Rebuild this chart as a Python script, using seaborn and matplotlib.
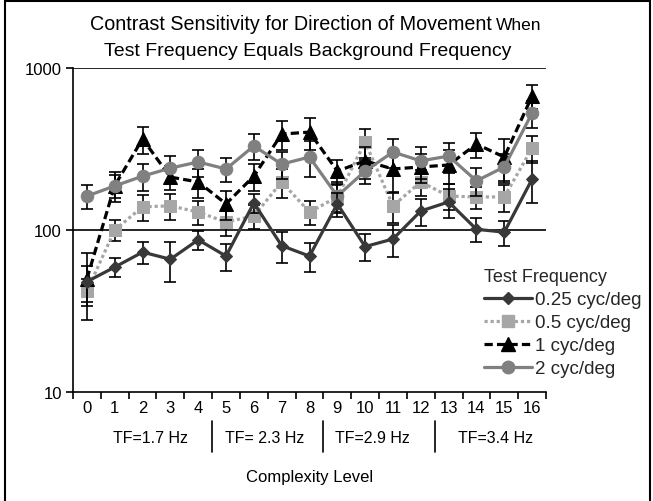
import matplotlib
matplotlib.use("Agg")
import matplotlib.pyplot as plt
import seaborn as sns
from matplotlib.patches import Rectangle
from matplotlib.lines import Line2D
from matplotlib.transforms import blended_transform_factory

# ---------------- data ----------------
levels = list(range(17))
level_labels = [str(i) for i in levels]
series_names = ["0.25 cyc/deg", "0.5 cyc/deg", "1 cyc/deg", "2 cyc/deg"]

vals_025 = [48, 59, 73, 66, 87, 69, 147, 80, 69, 145, 79, 88, 131, 149, 101, 97, 206]
vals_05 = [42, 100, 139, 141, 129, 112, 122, 198, 129, 160, 349, 141, 198, 162, 160, 160, 320]
vals_1 = [50, 188, 365, 212, 198, 145, 215, 391, 402, 231, 267, 238, 245, 252, 339, 282, 671]
vals_2 = [162, 187, 215, 241, 263, 238, 330, 255, 282, 162, 231, 303, 267, 286, 201, 245, 527]

err_025 = [12, 8, 11, 18, 12, 13, 20, 17, 14, 25, 15, 20, 25, 30, 17, 17, 60]
err_05 = [8, 15, 25, 25, 22, 20, 20, 40, 22, 30, 70, 30, 35, 30, 25, 30, 60]
err_1 = [22, 40, 70, 35, 40, 30, 40, 80, 90, 40, 60, 70, 50, 60, 60, 80, 110]
err_2 = [28, 30, 40, 45, 50, 40, 60, 50, 70, 35, 40, 60, 60, 60, 40, 50, 100]

group_labels = ["TF=1.7 Hz", "TF= 2.3 Hz", "TF=2.9 Hz", "TF=3.4 Hz"]
group_centers = [2.27, 6.4, 10.25, 14.67]
group_separators = [4.5, 8.5, 12.5]

# ---------------- style ----------------
sns.set_style("white")
plt.rcParams['font.family'] = ['Liberation Sans', 'DejaVu Sans']

W, H = 653, 502
fig = plt.figure(figsize=(W / 100, H / 100), dpi=100)
ax = fig.add_axes([73 / W, 1 - 393 / H, (546 - 73) / W, (393 - 69) / H])

styles = {
    "0.25 cyc/deg": dict(color="#383838", marker="D", ms=6.5, ls="-"),
    "0.5 cyc/deg": dict(color="#A6A6A6", marker="s", ms=8.5, ls=(0, (1.0, 0.9))),
    "1 cyc/deg": dict(color="#000000", marker="^", ms=9.5, ls=(0, (2.6, 1.3))),
    "2 cyc/deg": dict(color="#808080", marker="o", ms=9.0, ls="-"),
}
data = {
    "0.25 cyc/deg": (vals_025, err_025),
    "0.5 cyc/deg": (vals_05, err_05),
    "1 cyc/deg": (vals_1, err_1),
    "2 cyc/deg": (vals_2, err_2),
}
draw_order = ["0.5 cyc/deg", "1 cyc/deg", "2 cyc/deg", "0.25 cyc/deg"]

LW = 2.3
for k, name in enumerate(draw_order):
    vals, errs = data[name]
    st = styles[name]
    ax.errorbar(levels, vals, yerr=errs, fmt="none", ecolor="black",
                elinewidth=1.2, capsize=4.5, capthick=1.2, zorder=3 + 2 * k)
    sns.lineplot(x=levels, y=vals, ax=ax, color=st["color"], marker=st["marker"],
                 markersize=st["ms"], markeredgecolor=st["color"],
                 markerfacecolor=st["color"], linewidth=LW, linestyle=st["ls"],
                 errorbar=None, zorder=4 + 2 * k, legend=False)

ax.set_yscale("log")
ax.set_ylim(10, 1000)
ax.set_xlim(-0.5, 16.5)
ax.set_yticks([10, 100, 1000])
ax.set_yticklabels(["10", "100", "1000"])
ax.minorticks_off()
ax.set_xticks([i - 0.5 for i in range(18)])
ax.set_xticklabels([])
ax.set_xticks(levels, minor=True)
ax.set_xticklabels(level_labels, minor=True)
ax.tick_params(axis="x", which="major", direction="out", length=5, width=1.2,
               color="black", bottom=True)
ax.tick_params(axis="x", which="minor", length=0, labelsize=12, pad=6,
               labelcolor="black", bottom=True)
ax.tick_params(axis="y", which="major", direction="out", length=5, width=1.2,
               color="black", labelsize=12, pad=3, left=True, labelcolor="black")
ax.set_xlabel("")
ax.set_ylabel("")
ax.grid(False)
for y in [100, 1000]:
    ax.axhline(y, color="black", lw=1.2, zorder=1)
for s in ["top", "right"]:
    ax.spines[s].set_visible(False)
for s in ["left", "bottom"]:
    ax.spines[s].set_color("black")
    ax.spines[s].set_linewidth(1.2)

# group labels and separators
tr = blended_transform_factory(ax.transData, fig.transFigure)
for lab, cx in zip(group_labels, group_centers):
    fig.text(cx, 1 - 443 / H, lab, transform=tr, ha="center", va="baseline",
             fontsize=11.5, color="black")
for sx in group_separators:
    fig.add_artist(Line2D([sx, sx], [1 - 422 / H, 1 - 453 / H], transform=tr,
                          color="black", lw=1.2))
fig.text(310 / W, 1 - 482 / H, "Complexity Level", ha="center", va="baseline",
         fontsize=12, color="black")

# title
fig.text(492 / W, 1 - 30 / H, "Contrast Sensitivity for Direction of Movement",
         ha="right", va="baseline", fontsize=14.2, color="black")
fig.text(496 / W, 1 - 30 / H, "When", ha="left", va="baseline", fontsize=12.5,
         color="black")
fig.text(308 / W, 1 - 56 / H, "Test Frequency Equals Background Frequency",
         ha="center", va="baseline", fontsize=14, color="black")

# legend
handles = []
for name in series_names:
    st = styles[name]
    handles.append(Line2D([], [], color=st["color"], marker=st["marker"],
                          markersize=st["ms"], markeredgecolor=st["color"],
                          markerfacecolor=st["color"], lw=LW, ls=st["ls"]))
leg = fig.legend(handles, series_names, title="Test Frequency", loc="upper left",
                 bbox_to_anchor=(484 / W, 1 - 269 / H), bbox_transform=fig.transFigure,
                 frameon=False, fontsize=13.5, title_fontsize=13, borderpad=0,
                 borderaxespad=0, handlelength=2.55, handletextpad=0.15,
                 labelspacing=0.32, alignment="left")

# figure border
fig.add_artist(Rectangle((5 / W, -0.01), (W - 8) / W, 1 - 2 / H + 0.01,
                         transform=fig.transFigure, fill=False, edgecolor="black",
                         lw=1.5))

fig.savefig("out.png", dpi=100)
